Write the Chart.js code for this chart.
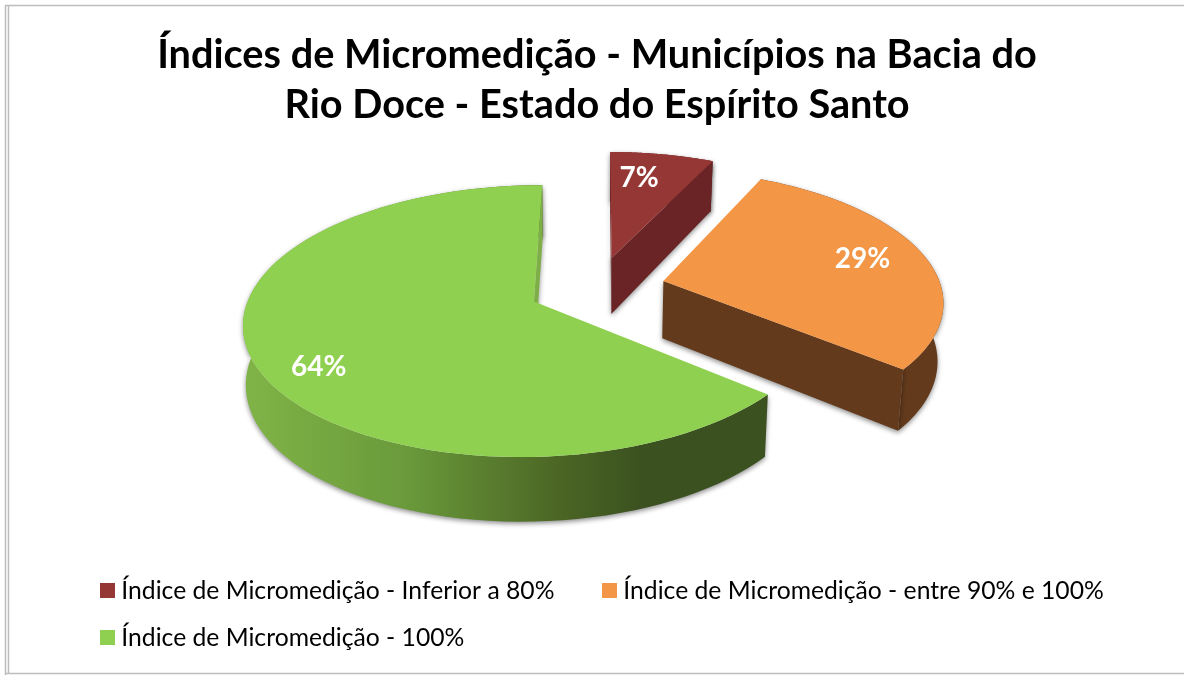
<!DOCTYPE html>
<html><head><meta charset="utf-8">
<style>html,body{margin:0;padding:0;background:#fff}canvas{display:block}</style>
<script src="https://cdn.jsdelivr.net/npm/chart.js@4"></script>
</head><body>
<canvas id="c" width="1184" height="675"></canvas>
<script>
const titleLines = ['Índices de Micromedição - Municípios na Bacia do', 'Rio Doce - Estado do Espírito Santo'];
const categories = ['Índice de Micromedição - Inferior a 80%', 'Índice de Micromedição - entre 90% e 100%', 'Índice de Micromedição - 100%'];
const values = [7, 29, 64];
const topColors = ['#953735', '#F39645', '#90D050'];
const sideColors = ['#6A2426', '#633A1C', '#7FAE48'];
const FONT = 'Lato, Carlito, sans-serif';

// Value-label placement, relative to each slice's own centre
const labelRadii = [0.735, 0.765, 0.825];
const labelTurnDeg = [-3.5, -0.7, -8.3];

// View of the pie plane (perspective tilt of the library's circular pie)
const view = { tx: 0, ty: -58, B: 280, A: 129, C: 0.5, p: 0.142, q: 0.005, d0: 57.5, d1: -6.5, taperR: 0.017, taperL: 0.008 };

function project(arc, u, v) {
  const w = 1 + view.p * v + view.q * u;
  return { x: arc.x + view.tx + (view.B * u + view.C * v) / w, y: arc.y + view.ty - view.A * v / w, v };
}
function lower(arc, pt) {
  const ox = arc.x + view.tx;
  const taper = pt.x > ox ? view.taperR : view.taperL;
  return { x: pt.x - taper * (pt.x - ox), y: pt.y + view.d0 + view.d1 * pt.v };
}
function sliceGeometry(arc) {
  const s = arc.startAngle + Math.PI / 2, e = arc.endAngle + Math.PI / 2, m = (s + e) / 2;
  const k = arc.options.offset / arc.outerRadius;
  const ou = k * Math.sin(m), ov = k * Math.cos(m);
  const rim = [];
  const n = 90;
  for (let i = 0; i <= n; i++) {
    const t = s + (e - s) * i / n;
    rim.push(project(arc, ou + Math.sin(t), ov + Math.cos(t)));
  }
  return { apex: project(arc, ou, ov), rim, ou, ov, m, s, e };
}
function poly(ctx, pts) {
  ctx.beginPath();
  pts.forEach((p, i) => i ? ctx.lineTo(p.x, p.y) : ctx.moveTo(p.x, p.y));
  ctx.closePath();
}

const pie3d = {
  id: 'pie3d',
  beforeDraw(chart) {
    const ctx = chart.ctx;
    ctx.save();
    ctx.fillStyle = '#fff';
    ctx.fillRect(0, 0, chart.width, chart.height);
    ctx.strokeStyle = '#bdbdbd';
    ctx.lineWidth = 1.5;
    ctx.beginPath();
    ctx.moveTo(5.5, 5); ctx.lineTo(5.5, 675);
    ctx.moveTo(8.5, 5.5); ctx.lineTo(8.5, 673);
    ctx.moveTo(5, 5.5); ctx.lineTo(1184, 5.5);
    ctx.moveTo(5, 673.5); ctx.lineTo(1184, 673.5);
    ctx.stroke();
    ctx.restore();
  },
  afterLayout(chart) {
    chart.legend.left = 84;
  },
  beforeDatasetsDraw(chart) {
    const ctx = chart.ctx;
    const arcs = chart.getDatasetMeta(0).data;
    ctx.save();
    arcs.forEach((arc, i) => {
      const g = sliceGeometry(arc);
      const rimBottom = g.rim.map(p => lower(arc, p));
      const apexBottom = lower(arc, g.apex);
      const last = g.rim.length - 1;
      ctx.save();
      ctx.shadowColor = 'rgba(0,0,0,0.45)';
      ctx.shadowBlur = 5;
      ctx.shadowOffsetY = 2;
      // outer wall
      let wall = sideColors[i];
      if (i === 2) {
        wall = ctx.createLinearGradient(248, 0, 640, 0);
        wall.addColorStop(0, '#80B347');
        wall.addColorStop(0.4, '#6A9A3B');
        wall.addColorStop(0.8, '#4B6524');
        wall.addColorStop(1, '#3B5220');
      }
      ctx.fillStyle = wall;
      poly(ctx, g.rim.concat(rimBottom.slice().reverse()));
      ctx.fill();
      // cut faces that turn toward the viewer
      ctx.fillStyle = sideColors[i];
      if (Math.sin(g.s) < 0.01) {
        poly(ctx, [g.apex, g.rim[0], rimBottom[0], apexBottom]);
        ctx.fill();
      }
      if (Math.sin(g.e) > -0.01) {
        poly(ctx, [g.apex, g.rim[last], rimBottom[last], apexBottom]);
        ctx.fill();
      }
      ctx.restore();
      ctx.fillStyle = topColors[i];
      poly(ctx, [g.apex].concat(g.rim));
      ctx.fill();
    });
    ctx.font = 'bold 28px ' + FONT;
    ctx.fillStyle = '#fff';
    ctx.textAlign = 'center';
    ctx.textBaseline = 'middle';
    arcs.forEach((arc, i) => {
      const g = sliceGeometry(arc);
      const a = g.m + labelTurnDeg[i] * Math.PI / 180;
      const p = project(arc, g.ou + labelRadii[i] * Math.sin(a), g.ov + labelRadii[i] * Math.cos(a));
      ctx.fillText(values[i] + '%', p.x, p.y);
    });
    ctx.restore();
    return false;
  }
};

function swatch(color) {
  const c = document.createElement('canvas');
  c.width = 15; c.height = 15;
  const x = c.getContext('2d');
  x.fillStyle = color;
  x.fillRect(0, 0, 15, 15);
  return c;
}

new Chart(document.getElementById('c'), {
  type: 'pie',
  data: {
    labels: categories,
    datasets: [{ data: values, backgroundColor: topColors, borderWidth: 0, offset: 46 }]
  },
  plugins: [pie3d],
  options: {
    responsive: false,
    animation: false,
    events: [],
    layout: { padding: { left: 10, bottom: 15 } },
    plugins: {
      tooltip: { enabled: false },
      title: {
        display: true,
        text: titleLines,
        color: '#000',
        font: { family: FONT, size: 39.7, weight: 'bold', lineHeight: 1.26 },
        padding: { top: 30, bottom: 5 }
      },
      legend: {
        position: 'bottom',
        align: 'start',
        labels: {
          color: '#1a1a1a',
          font: { family: FONT, size: 24.7 },
          padding: 22,
          boxWidth: 3,
          boxHeight: 15,
          usePointStyle: true,
          generateLabels: () => categories.map((t, i) => ({
            text: i === 0 ? t + '     ' : t,
            pointStyle: swatch(topColors[i]),
            fillStyle: topColors[i],
            strokeStyle: topColors[i],
            lineWidth: 0,
            index: i
          }))
        }
      }
    }
  }
});
</script>
</body></html>
